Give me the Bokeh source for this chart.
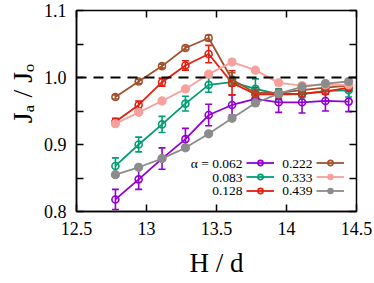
from bokeh.plotting import figure
from bokeh.models import (Range1d, FixedTicker, LinearAxis, Span, Whisker, ColumnDataSource,
                          Legend, LegendItem, Label, CustomJSTickFormatter, TeeHead)
from bokeh.embed import file_html
from bokeh.resources import INLINE

# ---------------- data ----------------
H = [12.778, 12.944, 13.111, 13.278, 13.444, 13.611, 13.778, 13.944, 14.111, 14.278, 14.444]

alphas = ["0.062", "0.083", "0.128", "0.222", "0.333", "0.439"]

a062 = [0.818, 0.848, 0.879, 0.908, 0.944, 0.959, 0.968, 0.963, 0.963, 0.965, 0.964]
e062 = [0.015, 0.015, 0.016, 0.016, 0.016, 0.015, 0.008, 0.015, 0.016, 0.015, 0.015]
a083 = [0.868, 0.900, 0.930, 0.961, 0.989, 0.993, 0.983, 0.975, 0.975, 0.980, 0.981]
e083 = [0.012, 0.011, 0.012, 0.011, 0.011, 0.005, 0.015, 0.008, 0.005, 0.005, 0.010]
a128 = [0.934, 0.959, 0.993, 1.018, 1.035, 0.992, 0.975, 0.975, 0.976, 0.979, 0.985]
e128 = [0.005, 0.006, 0.006, 0.007, 0.013, 0.018, 0.010, 0.006, 0.004, 0.004, 0.004]
a222 = [0.971, 0.994, 1.017, 1.044, 1.059, 0.997, 0.977, 0.977, 0.981, 0.985, 0.988]
e222 = [0.003, 0.003, 0.003, 0.003, 0.004, 0.010, 0.004, 0.003, 0.003, 0.003, 0.003]
a333 = [0.931, 0.948, 0.965, 0.983, 1.005, 1.023, 1.011, 0.992, 0.988, 0.989, 0.989]
e333 = [0.002, 0.002, 0.002, 0.002, 0.002, 0.002, 0.002, 0.002, 0.002, 0.002, 0.002]
a439 = [0.855, 0.866, 0.879, 0.895, 0.916, 0.939, 0.962, 0.976, 0.986, 0.991, 0.994]
e439 = [0.002, 0.002, 0.002, 0.002, 0.002, 0.002, 0.004, 0.002, 0.002, 0.002, 0.002]

x_ticks = [12.5, 13, 13.5, 14, 14.5]
y_ticks = [0.8, 0.9, 1.0, 1.1]
y_minor = [0.85, 0.95, 1.05]
reference_level = 1.0

series = [
    (a062, e062, "#9400d3", False),
    (a083, e083, "#009e73", False),
    (a128, e128, "#e51e10", False),
    (a222, e222, "#a0522d", False),
    (a333, e333, "#f7a09c", True),
    (a439, e439, "#8c8c8c", True),
]

FONT = "Liberation Serif"

p = figure(width=374, height=283, output_backend="svg", toolbar_location=None,
           x_range=Range1d(12.5, 14.5), y_range=Range1d(0.8, 1.1),
           min_border_left=76, min_border_right=18, min_border_top=10, min_border_bottom=72)
p.xgrid.visible = False
p.ygrid.visible = False
p.outline_line_color = "black"
p.outline_line_width = 1.5
p.background_fill_color = "white"
p.border_fill_color = "white"

xt = FixedTicker(ticks=x_ticks)
yt = FixedTicker(ticks=y_ticks, minor_ticks=y_minor)
xfmt = CustomJSTickFormatter(code="return String(tick)")
yfmt = CustomJSTickFormatter(code="return tick.toFixed(1)")
blank = CustomJSTickFormatter(code="return ''")

for ax in p.xaxis:
    ax.ticker = xt
    ax.formatter = xfmt
for ax in p.yaxis:
    ax.ticker = yt
    ax.formatter = yfmt

def style_axis(ax, labels=True):
    ax.axis_line_color = "black"
    ax.axis_line_width = 1.5
    ax.major_tick_in = 7
    ax.major_tick_out = 0
    ax.minor_tick_in = 7
    ax.minor_tick_out = 0
    ax.major_tick_line_width = 1.5
    ax.minor_tick_line_width = 1.5
    ax.major_tick_line_color = "black"
    ax.minor_tick_line_color = "black"
    ax.major_label_text_font = FONT
    ax.major_label_text_font_size = "18px"
    ax.major_label_text_color = "black"
    if not labels:
        ax.major_label_text_font_size = "0px"
        ax.major_label_standoff = 0
        ax.axis_line_color = None

for ax in p.xaxis + p.yaxis:
    style_axis(ax)
p.yaxis.major_label_standoff = 10
p.xaxis.major_label_standoff = 10
p.xaxis.axis_label = "H / d"
p.xaxis.axis_label_text_font = FONT
p.xaxis.axis_label_text_font_size = "27px"
p.xaxis.axis_label_text_font_style = "normal"
p.xaxis.axis_label_text_color = "black"
p.xaxis.axis_label_standoff = 10

p.yaxis.axis_label = "\u00a0\u00a0\u00a0\u00a0\u00a0J\u2090 / J\u2092"
p.yaxis.axis_label_text_font = FONT
p.yaxis.axis_label_text_font_size = "28px"
p.yaxis.axis_label_text_font_style = "normal"
p.yaxis.axis_label_text_color = "black"
p.yaxis.axis_label_standoff = 3

top = LinearAxis(ticker=xt, formatter=blank)
right = LinearAxis(ticker=yt, formatter=blank)
style_axis(top, labels=False)
style_axis(right, labels=False)
p.add_layout(top, "above")
p.add_layout(right, "right")

p.add_layout(Span(location=reference_level, dimension="width", line_color="black",
                  line_width=2, line_dash="10 7"))

line_renderers = []
for vals, errs, color, filled in series:
    src = ColumnDataSource(dict(x=H, y=vals,
                                lo=[v - e for v, e in zip(vals, errs)],
                                hi=[v + e for v, e in zip(vals, errs)]))
    w = Whisker(source=src, base="x", lower="lo", upper="hi", line_color=color, line_width=1.6,
                upper_head=TeeHead(size=7, line_color=color, line_width=1.6),
                lower_head=TeeHead(size=7, line_color=color, line_width=1.6))
    p.add_layout(w)
    lr = p.line("x", "y", source=src, line_color=color, line_width=1.8)
    if filled:
        sr = p.scatter("x", "y", source=src, marker="circle", size=8, fill_color=color,
                       line_color=color, line_width=1.2)
    else:
        sr = p.scatter("x", "y", source=src, marker="circle", size=7, fill_alpha=0,
                       line_color=color, line_width=1.6)
    line_renderers.append((lr, sr))

# legend glyphs (two columns of three)
def make_legend(rs, x0, y0):
    leg = Legend(items=[LegendItem(label="", renderers=[lr, sr]) for lr, sr in rs],
                 location=(x0, y0), orientation="vertical",
                 glyph_width=28, glyph_height=13, label_height=13, label_width=0,
                 label_standoff=0, spacing=1, padding=0, margin=0,
                 border_line_color=None, background_fill_alpha=0,
                 label_text_font_size="1px")
    p.add_layout(leg)

make_legend(line_renderers[:3], 170, 14)
make_legend(line_renderers[3:], 240, 14)

# legend texts (right-aligned, before the glyphs)
row_y = [48, 34, 21]
texts1 = ["\u03b1 = " + alphas[0], alphas[1], alphas[2]]
texts2 = alphas[3:]
for t, yy in zip(texts1, row_y):
    p.add_layout(Label(x=166, y=yy, x_units="screen", y_units="screen", text=t,
                       text_align="right", text_baseline="middle",
                       text_font=FONT, text_font_size="13.5px", text_color="black"))
for t, yy in zip(texts2, row_y):
    p.add_layout(Label(x=236, y=yy, x_units="screen", y_units="screen", text=t,
                       text_align="right", text_baseline="middle",
                       text_font=FONT, text_font_size="13.5px", text_color="black"))

open("out.html", "w").write(file_html(p, INLINE))
